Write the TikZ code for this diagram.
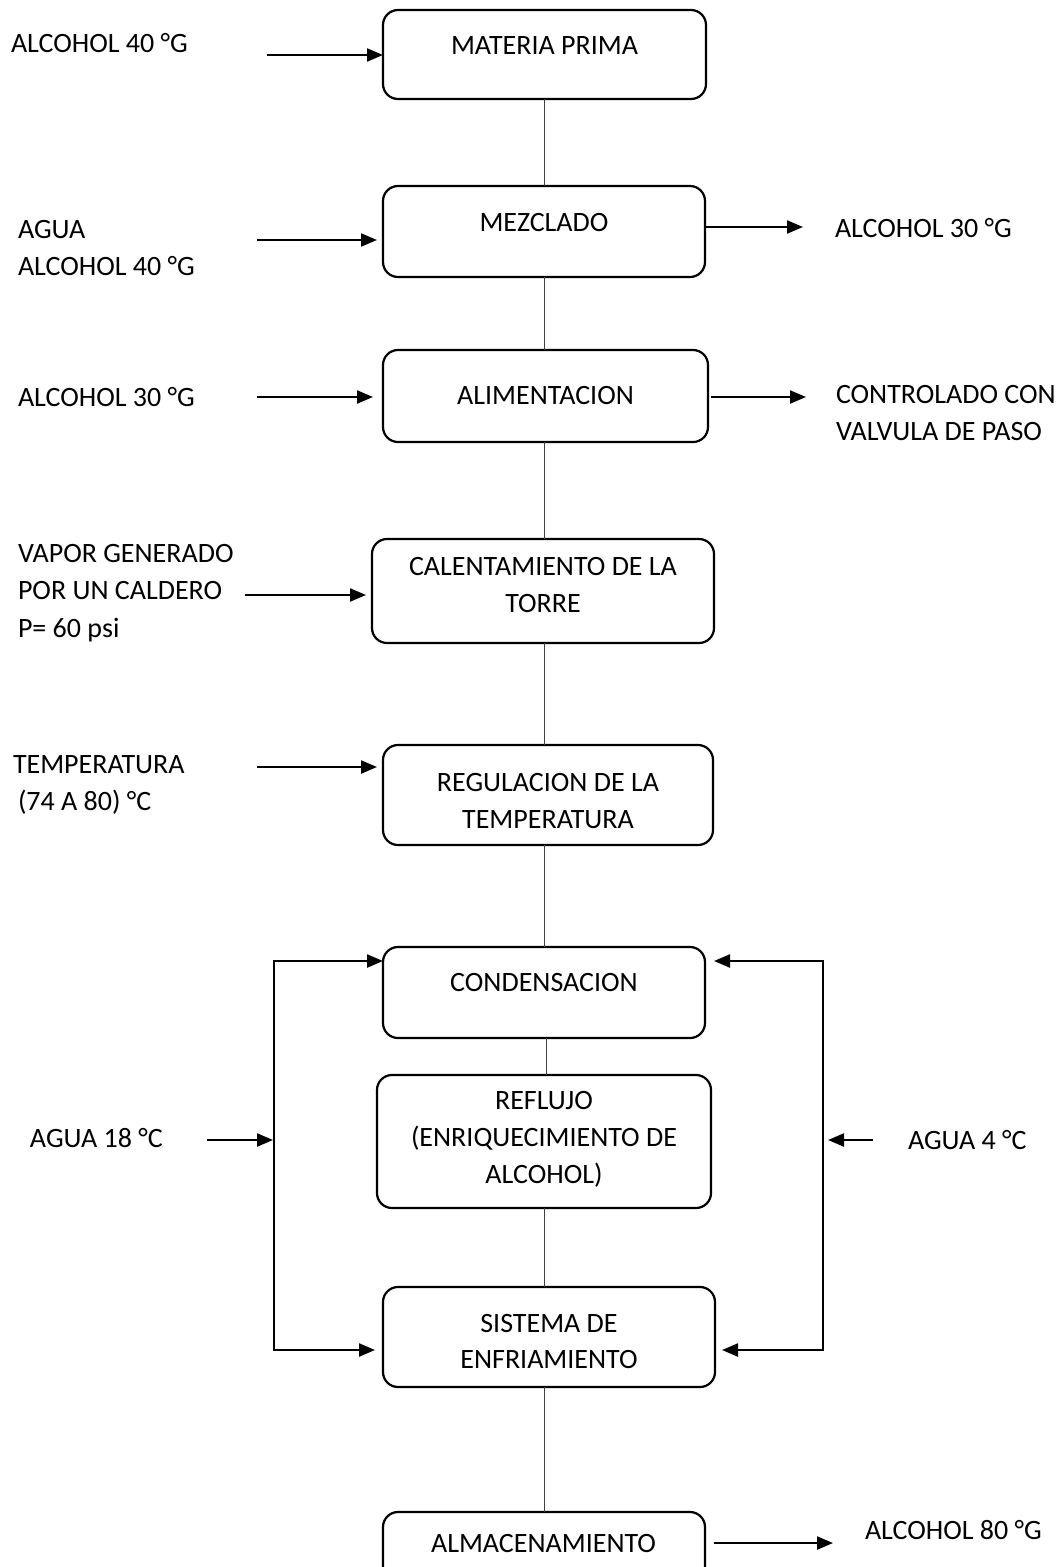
\documentclass[tikz,border=0pt]{standalone}
\usepackage{fontspec}
\setmainfont{Carlito}
\usetikzlibrary{arrows.meta}
\begin{document}
\begin{tikzpicture}[x=1pt,y=-1pt,
  every node/.style={font=\fontsize{28}{37}\selectfont, inner sep=0pt, outer sep=0pt},
  procbox/.style={draw, line width=2.2pt, rounded corners=15pt, anchor=north west},
  txt/.style={anchor=base},
  lbl/.style={anchor=base west},
  arr/.style={line width=2.2pt, -{Triangle[length=16pt,width=13pt]}},
  conn/.style={line width=1pt, draw=black!75}]
\useasboundingbox (0,0) rectangle (1064,1567);

% boxes
\node[procbox, minimum width=323, minimum height=89] (b1) at (383,10) {};
\node[procbox, minimum width=322, minimum height=91] (b2) at (383,186) {};
\node[procbox, minimum width=325, minimum height=92] (b3) at (383,350) {};
\node[procbox, minimum width=342, minimum height=104] (b4) at (372,539) {};
\node[procbox, minimum width=330, minimum height=100] (b5) at (383,745) {};
\node[procbox, minimum width=322, minimum height=91] (b6) at (383,947) {};
\node[procbox, minimum width=334, minimum height=133] (b7) at (377,1075) {};
\node[procbox, minimum width=332, minimum height=100] (b8) at (383,1287) {};
\node[procbox, minimum width=322, minimum height=75] (b9) at (383,1512) {};

% box texts
\node[txt] (t1) at (544.5,54) {MATERIA PRIMA};
\node[txt] (t2) at (544,231) {MEZCLADO};
\node[txt] (t3) at (545.5,404) {ALIMENTACION};
\node[txt] (t4a) at (543,575) {CALENTAMIENTO DE LA};
\node[txt] (t4b) at (543,612) {TORRE};
\node[txt] (t5a) at (548,791) {REGULACION DE LA};
\node[txt] (t5b) at (548,828) {TEMPERATURA};
\node[txt] (t6) at (544,991) {CONDENSACION};
\node[txt] (t7a) at (544,1109) {REFLUJO};
\node[txt] (t7b) at (544,1146) {(ENRIQUECIMIENTO DE};
\node[txt] (t7c) at (544,1183) {ALCOHOL)};
\node[txt] (t8a) at (549,1332) {SISTEMA DE};
\node[txt] (t8b) at (549,1368) {ENFRIAMIENTO};
\node[txt] (t9) at (543.5,1552) {ALMACENAMIENTO};

% side labels
\node[lbl] (l1) at (11,52) {ALCOHOL 40 °G};
\node[lbl] (l2a) at (18,238) {AGUA};
\node[lbl] (l2b) at (18,275) {ALCOHOL 40 °G};
\node[lbl] (r2) at (835,237) {ALCOHOL 30 °G};
\node[lbl] (l3) at (18,406) {ALCOHOL 30 °G};
\node[lbl] (r3a) at (836,403) {CONTROLADO CON};
\node[lbl] (r3b) at (836,440) {VALVULA DE PASO};
\node[lbl] (l4a) at (18,562) {VAPOR GENERADO};
\node[lbl] (l4b) at (18,599) {POR UN CALDERO};
\node[lbl] (l4c) at (18,637) {P= 60 psi};
\node[lbl] (l5a) at (13,773) {TEMPERATURA};
\node[lbl] (l5b) at (18,810) {(74 A 80) °C};
\node[lbl] (l6) at (30,1147) {AGUA 18 °C};
\node[lbl] (r6) at (908,1149) {AGUA 4 °C};
\node[lbl] (r9) at (865,1539) {ALCOHOL 80 °G};

% vertical connectors
\draw[conn] (b1.south) -- (b1.south |- b2.north);
\draw[conn] (b2.south) -- (b2.south |- b3.north);
\draw[conn] (b3.south -| b2.south) -- (b2.south |- b4.north);
\draw[conn] (b4.south -| b2.south) -- (b2.south |- b5.north);
\draw[conn] (b5.south -| b2.south) -- (b2.south |- b6.north);
\draw[conn] ([xshift=2]b6.south) -- ([xshift=2]b6.south |- b7.north);
\draw[conn] (b7.south -| b2.south) -- (b2.south |- b8.north);
\draw[conn] (b8.south -| b2.south) -- (b2.south |- b9.north);

% input arrows
\coordinate (s1) at (267,55);
\coordinate (s2) at (257,240);
\coordinate (s3) at (257,397);
\coordinate (s4) at (245,595);
\coordinate (s5) at (257,767);
\draw[arr] (s1) -- (s1 -| b1.west);
\draw[arr] (s2) -- ([xshift=-6]s2 -| b2.west);
\draw[arr] (s3) -- ([xshift=-10]s3 -| b3.west);
\draw[arr] (s4) -- ([xshift=-6]s4 -| b4.west);
\draw[arr] (s5) -- ([xshift=-6]s5 -| b5.west);

% output arrows
\coordinate (e2) at (803,227);
\coordinate (e3) at (806,397);
\coordinate (e9) at (833,1543);
\draw[arr] (e2 -| b2.east) -- (e2);
\draw[arr] ([xshift=3]e3 -| b3.east) -- (e3);
\draw[arr] ([xshift=9]e9 -| b9.east) -- (e9);

% left cooling loop
\coordinate (lt) at (274,961);
\coordinate (lm) at (274,1140);
\coordinate (lb) at (274,1350);
\coordinate (la) at (207,1140);
\draw[arr] (lm) -- (lt) -- (lt -| b6.west);
\draw[arr] (lm) -- (lb) -- ([xshift=-8]lb -| b8.west);
\draw[arr] (la) -- ([xshift=-1]lm);

% right cooling loop
\coordinate (rt) at (823,961);
\coordinate (rm) at (823,1140);
\coordinate (rb) at (823,1350);
\coordinate (ra) at (873,1140);
\draw[arr] (rm) -- (rt) -- ([xshift=9]rt -| b6.east);
\draw[arr] (rm) -- (rb) -- ([xshift=7]rb -| b8.east);
\draw[arr] (ra) -- ([xshift=5]rm);
\end{tikzpicture}
\end{document}
